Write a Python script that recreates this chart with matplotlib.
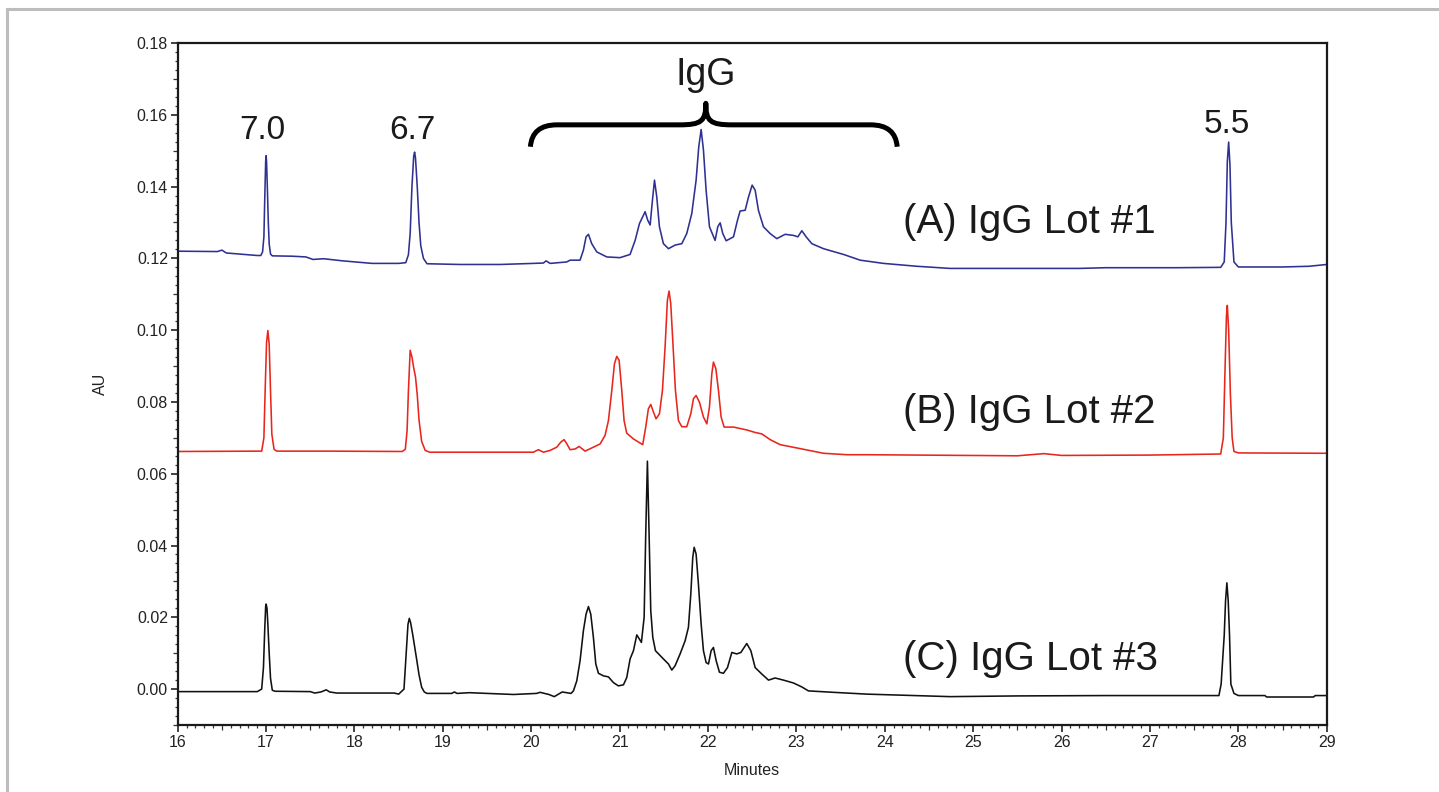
import matplotlib
matplotlib.use("Agg")
import matplotlib.pyplot as plt
from matplotlib.ticker import MultipleLocator
from matplotlib.path import Path
from matplotlib.patches import PathPatch
from matplotlib.lines import Line2D

plt.rcParams['font.family'] = ['Liberation Sans', 'DejaVu Sans']

# ---- chromatogram traces (retention time in minutes, absorbance in AU) ----
lot1_t = [16.0, 16.45, 16.5, 16.55, 16.9, 16.94, 16.96, 16.975, 16.985, 16.995, 17.0, 17.005,
          17.015, 17.025, 17.035, 17.05, 17.07,
          17.3, 17.45, 17.53, 17.65, 17.87, 18.2, 18.5, 18.58, 18.61, 18.63, 18.65, 18.67,
          18.68, 18.69, 18.71, 18.73, 18.75, 18.78, 18.82,
          19.2, 19.647, 20.024, 20.137, 20.168, 20.213, 20.401, 20.439, 20.552, 20.590, 20.620,
          20.647, 20.684, 20.741, 20.854, 21.005, 21.118, 21.175, 21.224, 21.261, 21.288,
          21.318, 21.345, 21.371, 21.394, 21.420, 21.450, 21.495, 21.552, 21.627, 21.703,
          21.759, 21.816, 21.865, 21.895, 21.922, 21.948, 21.978, 22.016, 22.080, 22.110,
          22.137, 22.167, 22.205, 22.288, 22.333, 22.363, 22.420, 22.458, 22.499, 22.533,
          22.570, 22.627, 22.703, 22.778, 22.872, 22.966, 23.016, 23.061, 23.110, 23.174,
          23.306, 23.532, 23.721, 23.985, 24.362, 24.739,
          25.5, 26.2, 26.5, 27.3, 27.8, 27.84, 27.86, 27.875, 27.89, 27.905, 27.92, 27.95,
          28.0, 28.5, 28.8, 29.0]
lot1_y = [0.1220, 0.1219, 0.1223, 0.1215, 0.1208, 0.1208, 0.1218, 0.1260, 0.1370, 0.1470,
          0.1486, 0.1470, 0.1390, 0.1300, 0.1240, 0.1212, 0.1207,
          0.1206, 0.1204, 0.1197, 0.1199, 0.1193, 0.1186, 0.1186, 0.1188, 0.1210, 0.1270,
          0.1400, 0.1485, 0.1496, 0.1480, 0.1400, 0.1300, 0.1235, 0.1200, 0.1185,
          0.1183, 0.1183, 0.1186, 0.1187, 0.1193, 0.1186, 0.1190, 0.1195, 0.1195, 0.1223,
          0.1260, 0.1267, 0.1241, 0.1218, 0.1204, 0.1202, 0.1211, 0.1250, 0.1297, 0.1316,
          0.1330, 0.1306, 0.1293, 0.1362, 0.1418, 0.1371, 0.1288, 0.1241, 0.1227, 0.1237,
          0.1241, 0.1269, 0.1325, 0.1418, 0.1511, 0.1559, 0.1502, 0.1390, 0.1288, 0.1250,
          0.1288, 0.1299, 0.1269, 0.1249, 0.1260, 0.1306, 0.1332, 0.1334, 0.1371, 0.1404,
          0.1390, 0.1334, 0.1288, 0.1269, 0.1255, 0.1267, 0.1264, 0.1260, 0.1277, 0.1260,
          0.1241, 0.1227, 0.1211, 0.1195, 0.1186, 0.1178, 0.1172,
          0.1172, 0.1172, 0.1174, 0.1174, 0.1175, 0.1190, 0.1300, 0.1470, 0.1524, 0.1460,
          0.1300, 0.1190, 0.1176, 0.1176, 0.1178, 0.1183]

lot2_t = [16.0, 16.95, 16.975, 16.99, 17.005, 17.02, 17.035, 17.05, 17.065, 17.09, 17.12,
          17.7, 18.54, 18.575, 18.595, 18.61, 18.63, 18.65, 18.67, 18.69, 18.71, 18.73, 18.76,
          18.8, 18.85,
          19.647, 20.024, 20.081, 20.137, 20.213, 20.288, 20.334, 20.371, 20.401, 20.439,
          20.496, 20.541, 20.609, 20.703, 20.779, 20.835, 20.873, 20.911, 20.941, 20.967,
          20.994, 21.024, 21.050, 21.080, 21.156, 21.261, 21.295, 21.325, 21.352, 21.382,
          21.412, 21.450, 21.484, 21.514, 21.540, 21.559, 21.578, 21.601, 21.631, 21.665,
          21.703, 21.759, 21.805, 21.835, 21.865, 21.903, 21.948, 21.986, 22.016, 22.043,
          22.061, 22.088, 22.118, 22.148, 22.182, 22.288, 22.438, 22.533, 22.608, 22.703,
          22.816, 23.042, 23.306, 23.570, 23.796, 24.363,
          25.5, 25.8, 26.0, 27.0, 27.8, 27.83, 27.85, 27.865, 27.875, 27.89, 27.91, 27.93,
          27.95, 28.0, 29.0]
lot2_y = [0.0662, 0.0663, 0.0700, 0.0840, 0.0965, 0.0999, 0.0960, 0.0830, 0.0710, 0.0668,
          0.0663, 0.0663, 0.0662, 0.0668, 0.0720, 0.0830, 0.0944, 0.0925, 0.0895, 0.0870,
          0.0820, 0.0750, 0.0690, 0.0665, 0.0660,
          0.0660, 0.0660, 0.0667, 0.0660, 0.0665, 0.0674, 0.0688, 0.0695, 0.0684, 0.0667,
          0.0669, 0.0676, 0.0663, 0.0674, 0.0683, 0.0707, 0.0748, 0.0832, 0.0906, 0.0927,
          0.0916, 0.0832, 0.0748, 0.0713, 0.0697, 0.0681, 0.0730, 0.0781, 0.0793, 0.0772,
          0.0753, 0.0767, 0.0832, 0.0953, 0.1083, 0.1109, 0.1074, 0.0971, 0.0832, 0.0748,
          0.0731, 0.0731, 0.0767, 0.0809, 0.0818, 0.0799, 0.0758, 0.0739, 0.0786, 0.0879,
          0.0911, 0.0893, 0.0832, 0.0758, 0.0730, 0.0730, 0.0722, 0.0715, 0.0711, 0.0695,
          0.0681, 0.0670, 0.0657, 0.0653, 0.0653, 0.0652,
          0.0650, 0.0656, 0.0651, 0.0652, 0.0655, 0.0700, 0.0900, 0.1040, 0.1069, 0.1000,
          0.0820, 0.0700, 0.0662, 0.0658, 0.0657]

lot3_t = [16.0, 16.9, 16.95, 16.97, 16.985, 16.995, 17.0, 17.01, 17.02, 17.035, 17.05, 17.07,
          17.1, 17.5, 17.55, 17.62, 17.68, 17.72, 17.8, 18.45, 18.5, 18.56, 18.585, 18.605,
          18.62, 18.635, 18.66, 18.7, 18.73, 18.76, 18.79, 18.82,
          19.1, 19.13, 19.16, 19.3, 19.5, 19.8, 20.06, 20.1, 20.2, 20.26, 20.35, 20.45,
          20.477, 20.515, 20.552, 20.590, 20.620, 20.647, 20.673, 20.703, 20.730, 20.760,
          20.816, 20.873, 20.930, 20.986, 21.043, 21.080, 21.118, 21.156, 21.194, 21.224,
          21.246, 21.277, 21.295, 21.314, 21.333, 21.352, 21.375, 21.405, 21.495, 21.552,
          21.590, 21.627, 21.684, 21.741, 21.778, 21.805, 21.827, 21.843, 21.865, 21.891,
          21.922, 21.948, 21.978, 22.005, 22.035, 22.061, 22.092, 22.129, 22.174, 22.220,
          22.269, 22.325, 22.371, 22.438, 22.484, 22.533, 22.608, 22.684, 22.759, 22.854,
          22.967, 23.061, 23.136, 23.419, 23.796,
          24.74, 25.5, 26.5, 27.78, 27.805, 27.84, 27.855, 27.87, 27.885, 27.9, 27.915, 27.95,
          28.0, 28.3, 28.32, 28.85, 28.87, 29.0]
lot3_y = [-0.0007, -0.0007, 0.0000, 0.0060, 0.0170, 0.0230, 0.0237, 0.0225, 0.0180, 0.0100,
          0.0030, -0.0003, -0.0006, -0.0007, -0.0011, -0.0008, -0.0002, -0.0008, -0.0011,
          -0.0011, -0.0014, 0.0000, 0.0100, 0.0180, 0.0197, 0.0185, 0.0150, 0.0088, 0.0040,
          0.0005, -0.0008, -0.0012,
          -0.0012, -0.0008, -0.0012, -0.0010, -0.0012, -0.0015, -0.0012, -0.0009, -0.0015,
          -0.0021, -0.0008, -0.0012,
          -0.0005, 0.0023, 0.0079, 0.0163, 0.0209, 0.0230, 0.0209, 0.0144, 0.0070, 0.0044,
          0.0037, 0.0034, 0.0018, 0.0009, 0.0012, 0.0032, 0.0084, 0.0107, 0.0151, 0.0139,
          0.0130, 0.0200, 0.0432, 0.0635, 0.0432, 0.0218, 0.0144, 0.0107, 0.0084, 0.0070,
          0.0053, 0.0065, 0.0098, 0.0135, 0.0172, 0.0265, 0.0367, 0.0395, 0.0376, 0.0293,
          0.0181, 0.0107, 0.0074, 0.0070, 0.0107, 0.0116, 0.0079, 0.0047, 0.0044, 0.0060,
          0.0102, 0.0098, 0.0102, 0.0127, 0.0107, 0.0060, 0.0042, 0.0025, 0.0031, 0.0025,
          0.0017, 0.0006, -0.0005, -0.0009, -0.0014,
          -0.0021, -0.0019, -0.0018, -0.0018, 0.0014, 0.0150, 0.0246, 0.0296, 0.0246, 0.0150,
          0.0014, -0.0012, -0.0018, -0.0018, -0.0022, -0.0022, -0.0018, -0.0018]

# pH marker labels: (retention time, label-bottom height, text)
marker_t = [16.96, 18.66, 27.87]
marker_y = [0.1512, 0.1512, 0.1530]
marker_txt = ["7.0", "6.7", "5.5"]

trace_labels = ["(A) IgG Lot #1", "(B) IgG Lot #2", "(C) IgG Lot #3"]
trace_label_y = [0.1300, 0.0773, 0.0085]
trace_colors = ["#2e3192", "#e8261c", "#111111"]

igg_span = (19.99, 24.14)

fig = plt.figure(figsize=(14.39, 7.92), dpi=100)
ax = fig.add_axes([0.1235, 0.0846, 0.7985, 0.8611])

for t, y, c in zip([lot1_t, lot2_t, lot3_t], [lot1_y, lot2_y, lot3_y], trace_colors):
    ax.plot(t, y, color=c, lw=1.15, solid_joinstyle='round')

ax.set_xlim(16, 29)
ax.set_ylim(-0.01, 0.18)

# ticks
ax.xaxis.set_major_locator(MultipleLocator(1))
ax.xaxis.set_minor_locator(MultipleLocator(0.1))
ax.yaxis.set_major_locator(MultipleLocator(0.02))
ax.yaxis.set_minor_locator(MultipleLocator(0.0025))
ax.yaxis.set_major_formatter(plt.FuncFormatter(lambda v, p: f"{v:.2f}"))
ax.tick_params(which='major', direction='out', length=5, width=1.2, color='#222222',
               labelsize=11.5, labelcolor='#222222', pad=2)
ax.tick_params(which='minor', direction='out', length=2.5, width=0.9, color='#333333')

# medium ticks at half-minute and 0.01 AU positions
fig.canvas.draw()
for tick, loc in zip(ax.xaxis.get_minor_ticks(), ax.xaxis.get_minorticklocs()):
    if abs(loc * 2 - round(loc * 2)) < 1e-6 and abs(loc - round(loc)) > 1e-6:
        tick.tick1line.set_markersize(3.8)
for tick, loc in zip(ax.yaxis.get_minor_ticks(), ax.yaxis.get_minorticklocs()):
    if abs(loc * 100 - round(loc * 100)) < 1e-6 and abs(loc * 50 - round(loc * 50)) > 1e-6:
        tick.tick1line.set_markersize(3.8)

for sp in ax.spines.values():
    sp.set_linewidth(1.6)
    sp.set_color('#1a1a1a')

ax.set_xlabel("Minutes", fontsize=11.5, color='#222222')
ax.set_ylabel("AU", fontsize=11.5, color='#222222')
ax.xaxis.set_label_coords(0.5, -0.066)
ax.xaxis.label.set_va('center')
ax.yaxis.set_label_coords(-0.0676, 0.5)
ax.yaxis.label.set_va('center')

# pH marker labels
for t, y, s in zip(marker_t, marker_y, marker_txt):
    ax.text(t, y, s, fontsize=24, ha='center', va='bottom', color='#1a1a1a')

# trace labels
for s, y in zip(trace_labels, trace_label_y):
    ax.text(24.21, y, s, fontsize=29, ha='left', va='center', color='#1a1a1a')

# curly brace over the IgG region
x0, x1 = igg_span
xm = (x0 + x1) / 2 - 0.09
yb, yh, yt = 0.1511, 0.1572, 0.1632
verts = [
    (x0, yb), (x0 + 0.02, yh), (x0 + 0.3, yh),
    (xm - 0.3, yh),
    (xm - 0.05, yh), (xm, yh + 0.001), (xm, yt),
    (xm, yh + 0.001), (xm + 0.05, yh), (xm + 0.3, yh),
    (x1 - 0.3, yh),
    (x1 - 0.02, yh), (x1, yb),
]
codes = [Path.MOVETO, Path.CURVE3, Path.CURVE3,
         Path.LINETO,
         Path.CURVE4, Path.CURVE4, Path.CURVE4,
         Path.CURVE4, Path.CURVE4, Path.CURVE4,
         Path.LINETO,
         Path.CURVE3, Path.CURVE3]
ax.add_patch(PathPatch(Path(verts, codes), facecolor='none', edgecolor='#000000',
                       lw=3.6, capstyle='butt', joinstyle='round'))
ax.text(xm, 0.1660, "IgG", fontsize=27, ha='center', va='bottom', color='#1a1a1a')

# outer grey frame (top and left edges)
W, H = 1439, 792
fig.add_artist(Line2D([7 / W, 1.0], [1 - 9 / H, 1 - 9 / H], transform=fig.transFigure,
                      color='#bdbdbd', lw=2.2))
fig.add_artist(Line2D([7 / W, 7 / W], [0.0, 1 - 9 / H], transform=fig.transFigure,
                      color='#bdbdbd', lw=2.2))

fig.savefig("out.png", dpi=100)
